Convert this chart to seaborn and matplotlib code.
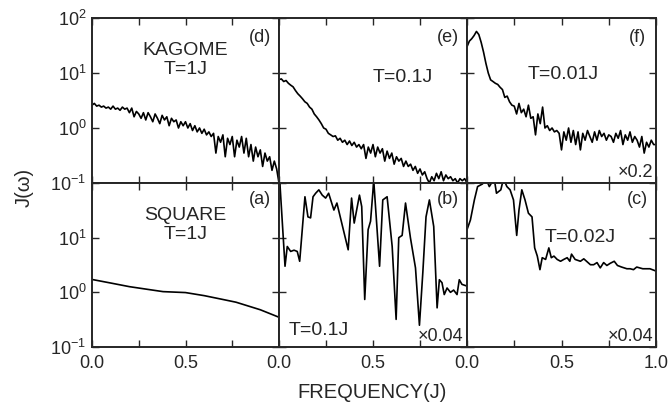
import numpy as np
import pandas as pd
import matplotlib
matplotlib.use("Agg")
import matplotlib.pyplot as plt
import seaborn as sns

# ---- data ----
# (d) KAGOME T=1J, x = 0..1 step 1/80
kag_t1 = [2.6, 2.8, 2.5, 2.6, 2.4, 2.5, 2.3, 2.4, 2.2, 2.5, 2.2, 2.3, 2.1, 2.4, 2.2, 2.3,
          1.9, 2.3, 1.6, 2.0, 1.8, 1.5, 1.9, 1.4, 1.9, 1.6, 1.3, 1.8, 1.5, 1.2, 1.7, 1.4,
          1.6, 1.1, 1.5, 1.3, 1.4, 1.0, 1.3, 1.1, 1.3, 1.0, 1.2, 0.9, 1.1, 0.85, 1.0, 0.8,
          0.95, 0.75, 0.85, 0.7, 0.8, 0.35, 0.7, 0.55, 0.75, 0.3, 0.65, 0.5, 0.7, 0.3, 0.6, 0.45,
          0.7, 0.35, 0.65, 0.3, 0.5, 0.25, 0.45, 0.3, 0.4, 0.2, 0.35, 0.25, 0.3, 0.17, 0.25, 0.18,
          0.1]
# (e) KAGOME T=0.1J
kag_t01 = [7.6, 7.8, 7.0, 7.3, 6.5, 6.0, 5.6, 4.8, 4.2, 3.8, 3.4, 3.0, 2.8, 2.4, 2.2, 1.8,
           1.6, 1.4, 1.2, 1.0, 0.95, 0.8, 0.75, 0.7, 0.72, 0.6, 0.65, 0.55, 0.6, 0.5, 0.58, 0.48,
           0.55, 0.45, 0.5, 0.42, 0.5, 0.28, 0.45, 0.35, 0.5, 0.3, 0.45, 0.35, 0.42, 0.25, 0.38, 0.28,
           0.35, 0.22, 0.3, 0.25, 0.28, 0.2, 0.25, 0.2, 0.22, 0.17, 0.2, 0.15, 0.18, 0.14, 0.16, 0.12,
           0.1, 0.13, 0.11, 0.15, 0.12, 0.16, 0.11, 0.14, 0.12, 0.13, 0.11, 0.12, 0.1, 0.12, 0.11, 0.12,
           0.1]
# (f) KAGOME T=0.01J (x0.2)
kag_t001 = [30, 38, 42, 48, 57, 50, 36, 24, 15, 10, 7.5, 7.0, 6.5, 6.2, 5.5, 5.0,
            3.6, 3.8, 3.0, 2.6, 2.5, 1.8, 2.8, 1.9, 2.2, 1.6, 2.6, 1.5, 1.6, 0.75, 1.8, 1.2,
            2.4, 1.0, 1.1, 0.9, 1.0, 0.85, 0.9, 0.8, 0.4, 0.85, 0.6, 1.0, 0.55, 0.9, 0.5, 0.85,
            0.4, 0.8, 0.6, 0.9, 0.7, 0.55, 0.85, 0.6, 0.9, 0.7, 0.8, 0.6, 0.75, 0.7, 0.55, 0.8,
            0.65, 0.9, 0.5, 0.75, 0.6, 0.85, 0.55, 0.7, 0.6, 0.45, 0.7, 0.35, 0.55, 0.45, 0.6, 0.5,
            0.5]

# (a) SQUARE T=1J
sq_t1_x = [0.0, 0.1, 0.2, 0.3, 0.38, 0.5, 0.6, 0.7, 0.77, 0.9, 1.0]
sq_t1 = [1.72, 1.48, 1.27, 1.13, 1.03, 0.99, 0.87, 0.74, 0.66, 0.48, 0.35]

# (b) SQUARE T=0.1J (x0.04)
sq_t01_x = [0.0, 0.004, 0.032, 0.044, 0.062, 0.08, 0.097, 0.11, 0.138, 0.154, 0.168, 0.181,
            0.195, 0.212, 0.23, 0.248, 0.264, 0.292, 0.308, 0.368, 0.386, 0.4, 0.428, 0.44,
            0.456, 0.474, 0.487, 0.504, 0.535, 0.552, 0.575, 0.602, 0.623, 0.637, 0.655,
            0.673, 0.699, 0.726, 0.747, 0.765, 0.782, 0.8, 0.823, 0.841, 0.853, 0.867, 0.879,
            0.894, 0.912, 0.929, 0.947, 0.959, 0.973, 1.0]
sq_t01 = [150, 110, 3.0, 6.9, 5.6, 5.9, 5.6, 3.7, 56, 24, 23, 56, 65, 75, 60, 53, 65, 32,
          43, 6.0, 53, 18.5, 60, 37, 0.74, 14, 20, 110, 3.0, 49, 56, 6.9, 0.32, 10, 11, 43,
          10, 2.8, 0.25, 2.3, 24, 49, 16, 0.52, 1.7, 1.5, 0.91, 1.2, 1.0, 1.1, 0.91, 1.7, 1.4, 1.3]

# (c) SQUARE T=0.02J (x0.04)
sq_t002_x = [0.0, 0.018, 0.039, 0.056, 0.082, 0.1, 0.118, 0.144, 0.156, 0.179, 0.193,
             0.211, 0.228, 0.246, 0.263, 0.275, 0.29, 0.307, 0.325, 0.344, 0.358, 0.372,
             0.386, 0.398, 0.416, 0.433, 0.446, 0.46, 0.477, 0.495, 0.512, 0.53, 0.544, 0.553,
             0.572, 0.6, 0.618, 0.653, 0.67, 0.688, 0.705, 0.723, 0.74, 0.758, 0.779, 0.796,
             0.818, 0.846, 0.863, 0.881, 0.898, 0.93, 0.968, 1.0]
sq_t002 = [14, 21, 49, 86, 96, 120, 86, 120, 65, 75, 120, 86, 75, 49, 11, 32, 75, 49, 28, 24,
           6.5, 4.6, 2.6, 4.3, 4.0, 6.5, 4.3, 4.6, 4.0, 3.7, 4.0, 4.3, 3.7, 5.0, 4.0, 3.7, 4.1,
           3.2, 3.2, 3.5, 2.8, 3.5, 3.1, 3.4, 3.7, 3.1, 2.9, 2.7, 2.7, 2.6, 2.9, 2.7, 2.7, 2.45]

grid_x = np.linspace(0, 1, 81)

panels = [
    # row, col, x, y, tag
    (0, 0, grid_x, kag_t1, "(d)"),
    (0, 1, grid_x, kag_t01, "(e)"),
    (0, 2, grid_x, kag_t001, "(f)"),
    (1, 0, sq_t1_x, sq_t1, "(a)"),
    (1, 1, sq_t01_x, sq_t01, "(b)"),
    (1, 2, sq_t002_x, sq_t002, "(c)"),
]

sns.set_style("ticks")
plt.rcParams["font.family"] = ["Liberation Sans", "DejaVu Sans"]
plt.rcParams["mathtext.fontset"] = "custom"
plt.rcParams["mathtext.rm"] = "Liberation Sans"
plt.rcParams["mathtext.it"] = "Liberation Sans:italic"

fig = plt.figure(figsize=(6.72, 4.08), dpi=100)
W, H = 672.0, 408.0
col_left = [92, 279, 467]
col_w = [187, 188, 189]
row_top = [18, 183]
row_h = [165, 164]

axes = {}
for row, col, xs, ys, tag in panels:
    ax = fig.add_axes([col_left[col] / W, (H - row_top[row] - row_h[row]) / H,
                       col_w[col] / W, row_h[row] / H])
    df = pd.DataFrame({"x": xs, "y": ys})
    sns.lineplot(data=df, x="x", y="y", ax=ax, color="black", linewidth=1.2,
                 estimator=None, sort=False)
    ax.set_yscale("log")
    ax.set_xlim(0, 1)
    ax.set_ylim(0.1, 100)
    ax.set_xlabel("")
    ax.set_ylabel("")
    ax.set_xticks([0, 0.25, 0.5, 0.75, 1.0])
    ax.set_yticks([0.1, 1, 10, 100])
    ax.minorticks_off()
    ax.tick_params(direction="in", length=5, width=1, top=True, right=True,
                   labelsize=13)
    ax.tick_params(axis="x", pad=6)
    ax.tick_params(axis="y", pad=4)
    for s in ax.spines.values():
        s.set_linewidth(1.4)
    if row == 1:
        if col == 2:
            ax.set_xticklabels(["0.0", "", "0.5", "", "1.0"])
        else:
            ax.set_xticklabels(["0.0", "", "0.5", "", ""])
    else:
        ax.set_xticklabels([])
    if col == 0:
        if row == 0:
            ax.set_yticklabels([r"$10^{-1}$", r"$10^{0}$", r"$10^{1}$", r"$10^{2}$"])
        else:
            ax.set_yticklabels([r"$10^{-1}$", r"$10^{0}$", r"$10^{1}$", ""])
    else:
        ax.set_yticklabels([])
    ax.text(0.9, 0.88 if row == 0 else 0.9, tag, transform=ax.transAxes,
            ha="center", va="center", fontsize=13)
    axes[tag] = ax

fs = 14
axes["(d)"].text(0.5, 0.745, "KAGOME\nT=1J", transform=axes["(d)"].transAxes,
                 ha="center", va="center", fontsize=fs, linespacing=1.15)
axes["(e)"].text(0.66, 0.64, "T=0.1J", transform=axes["(e)"].transAxes,
                 ha="center", va="center", fontsize=fs)
axes["(f)"].text(0.51, 0.655, "T=0.01J", transform=axes["(f)"].transAxes,
                 ha="center", va="center", fontsize=fs)
axes["(f)"].text(0.985, 0.015, "×0.2", transform=axes["(f)"].transAxes,
                 ha="right", va="bottom", fontsize=13)
axes["(a)"].text(0.5, 0.745, "SQUARE\nT=1J", transform=axes["(a)"].transAxes,
                 ha="center", va="center", fontsize=fs, linespacing=1.15)
axes["(b)"].text(0.05, 0.1, "T=0.1J", transform=axes["(b)"].transAxes,
                 ha="left", va="center", fontsize=fs)
axes["(b)"].text(0.98, 0.015, "×0.04", transform=axes["(b)"].transAxes,
                 ha="right", va="bottom", fontsize=13)
axes["(c)"].text(0.41, 0.67, "T=0.02J", transform=axes["(c)"].transAxes,
                 ha="left", va="center", fontsize=fs)
axes["(c)"].text(0.985, 0.015, "×0.04", transform=axes["(c)"].transAxes,
                 ha="right", va="bottom", fontsize=13)

fig.text(372 / W, 1 - 392 / H, "FREQUENCY(J)", ha="center", va="center", fontsize=14.5)
fig.text(24 / W, 1 - 187 / H, "J(ω)", ha="center", va="center", rotation=90, fontsize=14.5)

fig.savefig("out.png", dpi=100)
